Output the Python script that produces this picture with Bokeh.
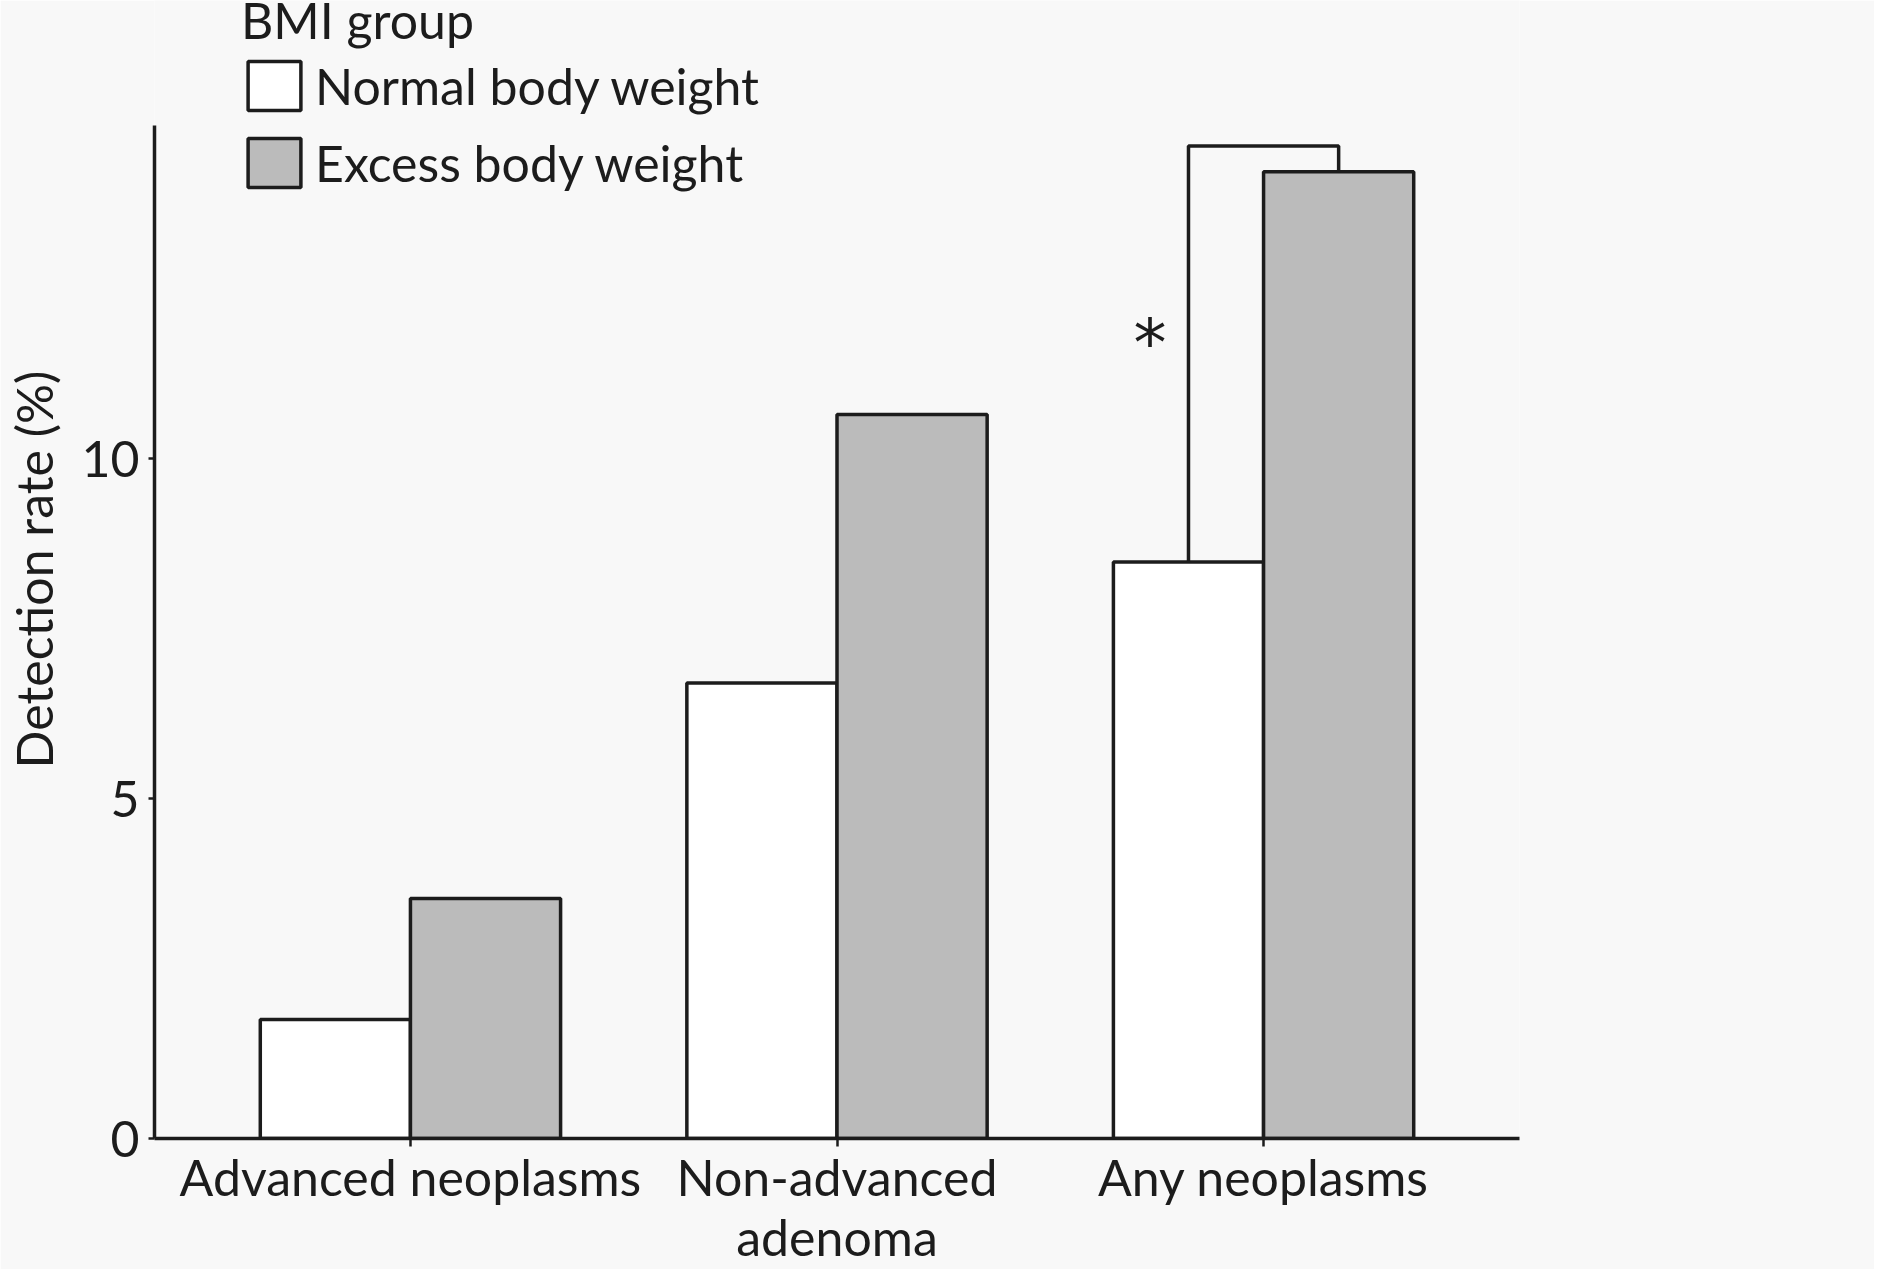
from bokeh.plotting import figure
from bokeh.models import Range1d, FixedTicker, Legend, LegendItem, ColumnDataSource
from bokeh.core.properties import value
from bokeh.embed import file_html
from bokeh.resources import INLINE

# ---- data ----
categories = ["Advanced neoplasms", "Non-advanced\nadenoma", "Any neoplasms"]
normal = [1.75, 6.70, 8.48]
excess = [3.53, 10.65, 14.22]
series_names = ["Normal body weight", "Excess body weight"]
legend_title = "BMI group"
y_ticks = [0, 5, 10]
y_label = "Detection rate (%)"
y_axis_top = 14.9
bracket_top = 14.6
star_y = 11.7
star_label = "*"

FONT = "Lato"
FS = "50px"
INK = "#1c1c1c"
BG = "#f8f8f8"
GRAY = "#bbbbbb"

idx = list(range(len(categories)))
BW = 0.352
half = BW / 2

p = figure(width=1874, height=1269, output_backend="svg", toolbar_location=None,
           x_range=Range1d(-0.6, 2.6), y_range=Range1d(0, 16.74),
           min_border_left=154, min_border_right=355,
           min_border_top=0, min_border_bottom=127)
p.background_fill_color = BG
p.border_fill_color = BG
p.outline_line_color = None
p.grid.visible = False

src_n = ColumnDataSource(dict(x=[i - half for i in idx], top=normal))
src_e = ColumnDataSource(dict(x=[i + half for i in idx], top=excess))
r_n = p.vbar(x="x", top="top", bottom=0, width=BW, source=src_n,
             fill_color="white", line_color=INK, line_width=3.5)
r_e = p.vbar(x="x", top="top", bottom=0, width=BW, source=src_e,
             fill_color=GRAY, line_color=INK, line_width=3.5)

# significance bracket for "Any neoplasms"
k = 2
p.line(x=[k - half, k - half, k + half, k + half],
       y=[normal[k], bracket_top, bracket_top, excess[k]],
       line_color=INK, line_width=3.5)
p.text(x=[k - half - 0.09], y=[star_y], text=[star_label],
       text_font=value("DejaVu Sans"), text_font_size="66px", text_color=INK,
       text_align="center", text_baseline="middle")

# axes
xa = p.xaxis[0]
xa.ticker = FixedTicker(ticks=idx)
xa.major_label_overrides = {i: c for i, c in zip(idx, categories)}
xa.minor_tick_line_color = None
xa.major_tick_in = 0
xa.major_tick_out = 8
xa.major_label_standoff = 0
xa.major_label_text_line_height = 1.0
ya = p.yaxis[0]
ya.ticker = FixedTicker(ticks=y_ticks)
ya.bounds = (0, y_axis_top)
ya.minor_tick_line_color = None
ya.major_tick_in = 0
ya.major_tick_out = 6
ya.major_label_standoff = 9
ya.axis_label = y_label
ya.axis_label_standoff = 14
for ax in (xa, ya):
    ax.axis_line_width = 3.5
    ax.axis_line_color = INK
    ax.major_tick_line_width = 2.5
    ax.major_tick_line_color = INK
    ax.major_label_text_font = FONT
    ax.major_label_text_font_size = FS
    ax.major_label_text_color = INK
    ax.axis_label_text_font = FONT
    ax.axis_label_text_font_size = FS
    ax.axis_label_text_font_style = "normal"
    ax.axis_label_text_color = INK

legend = Legend(items=[LegendItem(label=series_names[0], renderers=[r_n]),
                       LegendItem(label=series_names[1], renderers=[r_e])],
                location=(87, 945), title=legend_title,
                title_text_font=FONT, title_text_font_size=FS,
                title_text_font_style="normal", title_text_color=INK,
                label_text_font=FONT, label_text_font_size=FS, label_text_color=INK,
                glyph_width=66, glyph_height=61, label_standoff=8, spacing=16,
                title_standoff=5, padding=0, margin=0,
                border_line_color=None, background_fill_alpha=0)
p.add_layout(legend, "center")

open("out.html", "w").write(file_html(p, INLINE))
